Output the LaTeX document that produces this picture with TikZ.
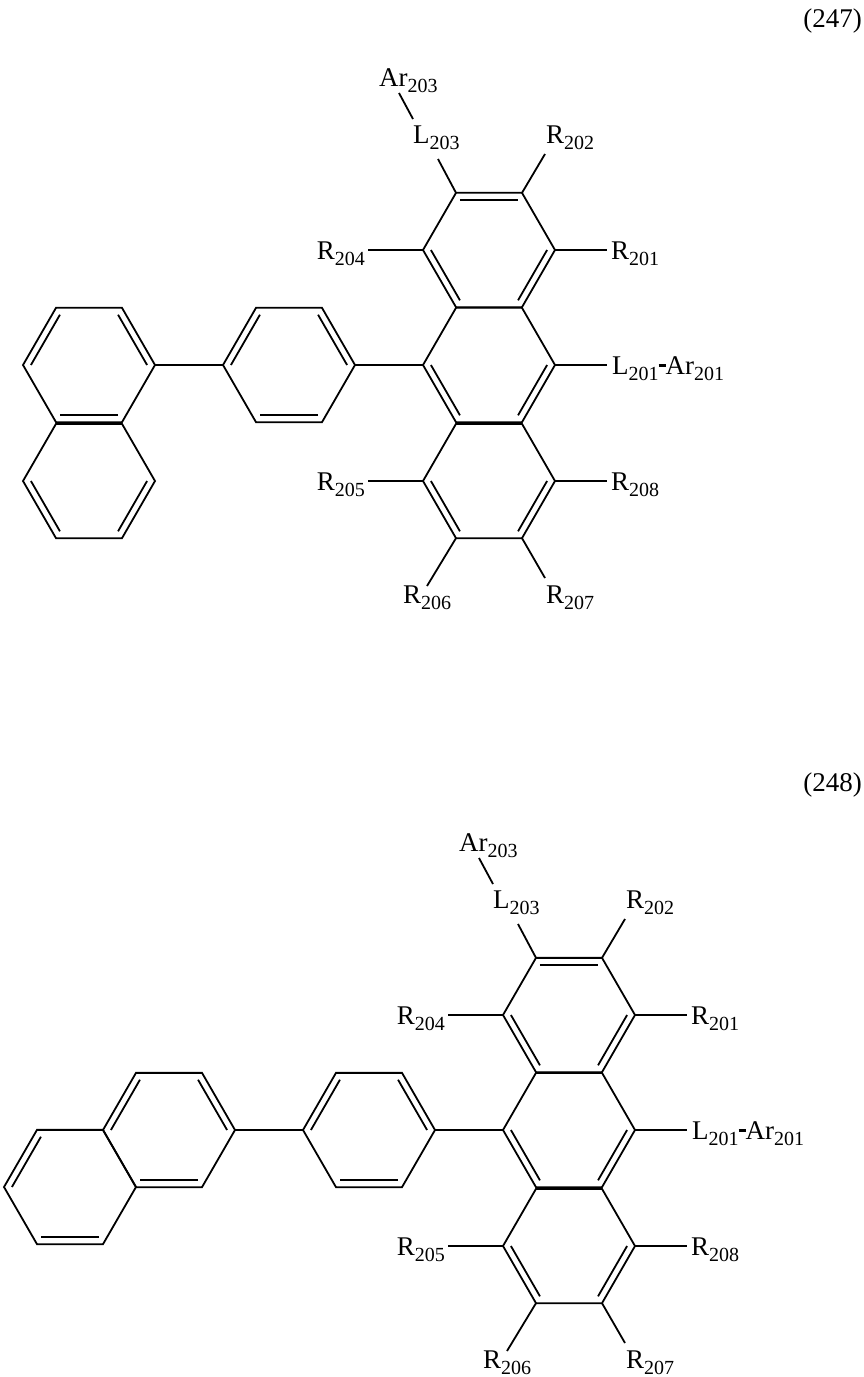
\documentclass[tikz,border=0pt]{standalone}
\usepackage{fontspec}
\setmainfont{Liberation Serif}
\usetikzlibrary{calc}
\newcommand\sbx[1]{\raisebox{-6pt}{\fontsize{20}{20}\selectfont #1}}
\newcommand\hexr[2]{\foreach \k in {0,...,5}{\coordinate (#1\k) at ($(#2)+(\k*60:66)$);}
  \draw[bond] (#10)--(#11)--(#12)--(#13)--(#14)--(#15)--cycle;}
\newcommand\dbl[3]{\draw[bond] ($(#1)!0.12!(#3)$) -- ($(#2)!0.12!(#3)$);}
\begin{document}
\begin{tikzpicture}[x=1pt,y=-1pt,bond/.style={line width=1.8pt,line join=miter},
  lbl/.style={inner sep=0pt,font=\fontsize{27}{27}\selectfont}]
\useasboundingbox (0,0) rectangle (864,1377);
\node[lbl,anchor=base east] (n247) at (862,27) {(247)};
\node[lbl,anchor=base east] (n248) at (862,791) {(248)};
\foreach \sx/\sy/\t in {0/0/a,80/765/b}{
\begin{scope}[shift={(\sx,\sy)}]
\coordinate (U\t) at (489,250); \coordinate (C\t) at (489,365); \coordinate (D\t) at (489,481); \coordinate (P\t) at (289,365);
\hexr{U\t}{U\t} \hexr{C\t}{C\t} \hexr{D\t}{D\t} \hexr{P\t}{P\t}
\dbl{U\t4}{U\t5}{U\t} \dbl{U\t3}{U\t2}{U\t} \dbl{U\t0}{U\t1}{U\t}
\dbl{C\t3}{C\t2}{C\t} \dbl{C\t0}{C\t1}{C\t}
\dbl{D\t3}{D\t2}{D\t} \dbl{D\t0}{D\t1}{D\t}
\dbl{P\t3}{P\t4}{P\t} \dbl{P\t5}{P\t0}{P\t} \dbl{P\t1}{P\t2}{P\t}
\draw[bond] (P\t0) -- (C\t3);
% labels
\node[lbl,anchor=base west] (ar203\t) at (379,86) {Ar\sbx{203}};
\node[lbl,anchor=base west] (l203\t) at (413,143) {L\sbx{203}};
\node[lbl,anchor=base west] (r202\t) at (546,143) {R\sbx{202}};
\node[lbl,anchor=base west] (r201\t) at (611,259) {R\sbx{201}};
\node[lbl,anchor=base west] (l201\t) at (612,374) {L\sbx{201}\rule[7pt]{7pt}{3pt}Ar\sbx{201}};
\node[lbl,anchor=base east] (r204\t) at (365,259) {R\sbx{204}};
\node[lbl,anchor=base east] (r205\t) at (365,490) {R\sbx{205}};
\node[lbl,anchor=base west] (r208\t) at (611,490) {R\sbx{208}};
\node[lbl,anchor=base west] (r206\t) at (403,603) {R\sbx{206}};
\node[lbl,anchor=base west] (r207\t) at (546,603) {R\sbx{207}};
\coordinate (e1\t) at (399,93); \coordinate (e2\t) at (413,119);
\coordinate (e3\t) at (438,159); \coordinate (e4\t) at (545,154);
\coordinate (e5\t) at (607,250); \coordinate (e6\t) at (607,365);
\coordinate (e7\t) at (368,250); \coordinate (e8\t) at (368,481);
\coordinate (e9\t) at (607,481); \coordinate (e10\t) at (427,586);
\coordinate (e11\t) at (545,578);
\draw[bond] (e1\t) -- (e2\t);
\draw[bond] (U\t4) -- (e3\t); \draw[bond] (U\t5) -- (e4\t);
\draw[bond] (U\t0) -- (e5\t); \draw[bond] (C\t0) -- (e6\t);
\draw[bond] (U\t3) -- (e7\t); \draw[bond] (D\t3) -- (e8\t);
\draw[bond] (D\t0) -- (e9\t); \draw[bond] (D\t2) -- (e10\t);
\draw[bond] (D\t1) -- (e11\t);
\end{scope}}
% 1-naphthyl (247)
\coordinate (N) at (89,365); \coordinate (Q) at (89,481);
\hexr{N}{N} \hexr{Q}{Q}
\dbl{N3}{N4}{N} \dbl{N5}{N0}{N} \dbl{N1}{N2}{N}
\dbl{Q3}{Q2}{Q} \dbl{Q0}{Q1}{Q}
\draw[bond] (N0) -- (Pa3);
% 2-naphthyl (248)
\coordinate (M) at (169,1130); \coordinate (K) at (70,1187);
\hexr{M}{M} \hexr{K}{K}
\dbl{M3}{M4}{M} \dbl{M5}{M0}{M} \dbl{M1}{M2}{M}
\dbl{K3}{K4}{K} \dbl{K1}{K2}{K}
\draw[bond] (M0) -- (Pb3);
\end{tikzpicture}
\end{document}
